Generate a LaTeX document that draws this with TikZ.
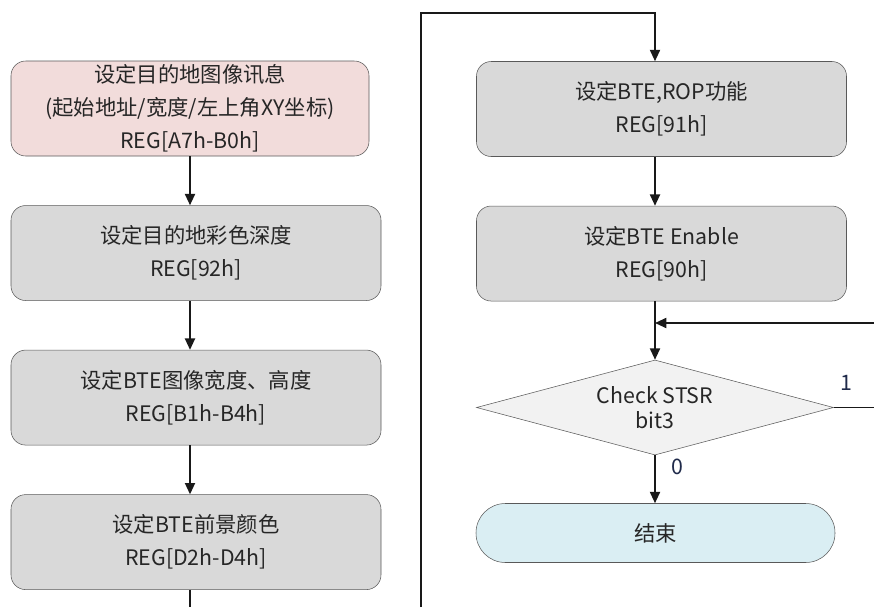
\documentclass[tikz,border=0pt]{standalone}
\usepackage{fontspec}
\setmainfont{Noto Sans CJK SC}
\usepackage{tikz}
\usetikzlibrary{shapes.geometric, arrows.meta, positioning}

\definecolor{startfill}{HTML}{F2DCDB}
\definecolor{stepfill}{HTML}{D9D9D9}
\definecolor{checkfill}{HTML}{F2F2F2}
\definecolor{endfill}{HTML}{DAEEF3}
\definecolor{labelcol}{HTML}{1F2A4A}

\begin{document}
\begin{tikzpicture}[
    x=0.75pt, y=-0.75pt,
    node distance=36.75pt and 2cm,
    box/.style={rectangle, rounded corners=11pt, draw=black!65, fill=stepfill,
                minimum width=277.5pt, minimum height=71.25pt, inner sep=0pt,
                align=center, text=black!85,
                font=\fontsize{16}{24.75}\selectfont},
    startbox/.style={box, fill=startfill, minimum width=268.5pt},
    checkbox/.style={diamond, aspect=3.75, draw=black!65, fill=checkfill,
                     minimum width=267.75pt, minimum height=71.25pt, inner sep=0pt,
                     align=center, text=black!85,
                     font=\fontsize{16}{19}\selectfont},
    endbox/.style={rectangle, rounded corners=22pt, draw=black!65, fill=endfill,
                   minimum width=269.25pt, minimum height=44.25pt,
                   align=center, text=black!85,
                   font=\fontsize{16}{19}\selectfont},
    lbl/.style={text=labelcol, font=\fontsize{16}{19}\selectfont},
    arr/.style={-{Triangle[length=8.5pt,width=7.5pt]}, line width=1.4pt, draw=black!90}
]
\useasboundingbox (0,0) rectangle (874,607);

% left column
\node[startbox] (dest) at (190,108.5) {设定目的地图像讯息 \\ (起始地址/宽度/左上角XY坐标) \\ REG[A7h-B0h]};
\node[box, below=of dest.south west, anchor=north west] (depth) {设定目的地彩色深度 \\ REG[92h]};
\node[box, below=of depth] (size)  {设定BTE图像宽度、高度 \\ REG[B1h-B4h]};
\node[box, below=of size]  (fgcol) {设定BTE前景颜色 \\ REG[D2h-D4h]};

% right column
\node[box] (rop) at (661.5,109) {设定BTE,ROP功能 \\ REG[91h]};
\node[box, below=of rop] (enable) {设定BTE Enable \\ REG[90h]};
\node[checkbox] (check) at (655,407.5) {Check STSR \\ bit3};
\node[endbox]   (done)  at (655.5,533) {结束};

\node[lbl] (one)  at (846,383) {1};
\node[lbl] (zero) at (677,467) {0};

\coordinate (lx) at (190,0);
\coordinate (rx) at (655,0);
\coordinate (lbot)  at (190,607);
\coordinate (jbot)  at (421,607);
\coordinate (jtop)  at (421,13);
\coordinate (loopin) at (874,323);
\coordinate (loopout) at (874,407.5);

\draw[arr] (dest.south)       -- (lx |- depth.north);
\draw[arr] (lx |- depth.south) -- (lx |- size.north);
\draw[arr] (lx |- size.south)  -- (lx |- fgcol.north);
\draw[line width=1.4pt, draw=black!90] (lx |- fgcol.south) -- (lbot);
\draw[arr] (jbot) -- (jtop) -| (rx |- rop.north);
\draw[arr] (rx |- rop.south)    -- (rx |- enable.north);
\draw[arr] (rx |- enable.south) -- (check.north);
\draw[arr] (loopin) -- (rx |- loopin);
\draw[line width=1.4pt, draw=black!90] (check.east) -- (loopout);
\draw[arr] (check.south) -- (check.south |- done.north);
\end{tikzpicture}
\end{document}
